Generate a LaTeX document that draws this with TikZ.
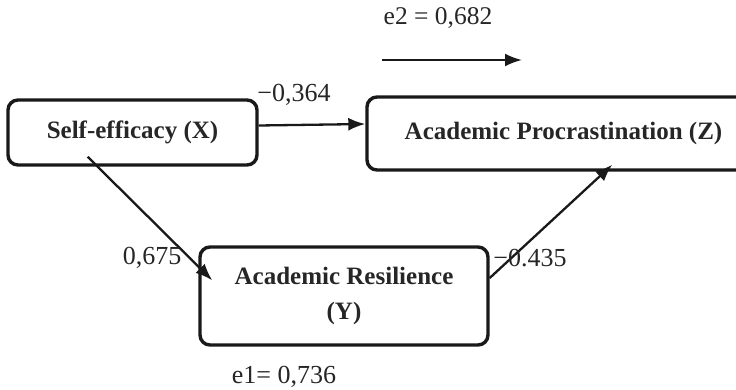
\documentclass[tikz,border=0pt]{standalone}
\usepackage{fontspec}
\setmainfont{Liberation Serif}
\usetikzlibrary{arrows.meta,calc}
\begin{document}
\begin{tikzpicture}[x=1pt,y=-1pt,
  varbox/.style={draw=black!90,line width=3.4pt,rounded corners=10pt,inner sep=0pt,
    font=\fontsize{25}{35}\selectfont\bfseries,text=black!85,align=center},
  pathlabel/.style={font=\fontsize{26}{30}\selectfont,text=black!85,inner sep=0pt},
  conn/.style={line width=2.3pt,draw=black!90,-{Latex[length=17pt,width=13pt]}}]
\useasboundingbox (0,0) rectangle (736,389);
\node[varbox,minimum width=249pt,minimum height=65pt] (X) at (132.5,132.5) {Self-efficacy (X)};
\node[varbox,minimum width=393pt,minimum height=73pt] (Z) at (563.5,133.5) {Academic Procrastination (Z)};
\node[varbox,minimum width=288pt,minimum height=98pt] (Y) at (344,296) {Academic Resilience\\(Y)};
\draw[conn] ($(X.east)+(0,-7)$) -- ($(Z.west)+(0,-9.5)$);
\draw[conn] ($(X.south west)!0.322!(X.south east)+(0,-10)$) -- ($(Y.north west)!0.05!(Y.south west)+(14,30)$);
\draw[conn] ($(Y.east)+(0,-18)$) -- ($(Z.south west)!0.623!(Z.south east)+(0,-7)$);
\coordinate (e2s) at (382,60);
\coordinate (e2e) at (522,60);
\draw[conn] (e2s) -- (e2e);
\node[pathlabel,font=\fontsize{25.5}{30}\selectfont] (le2) at (438,18) {e2 = 0,682};
\node[pathlabel] (lxz) at (294,95) {−0,364};
\node[pathlabel] (lxy) at (152,258) {0,675};
\node[pathlabel] (lyz) at (530,258) {−0.435};
\node[pathlabel] (le1) at (284,377) {e1= 0,736};
\end{tikzpicture}
\end{document}
